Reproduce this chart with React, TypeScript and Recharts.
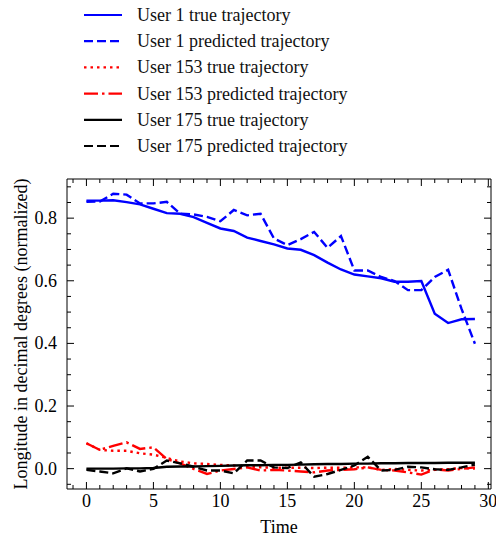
import { LineChart, Line, XAxis, YAxis, Legend } from "recharts";

const time = [0, 1, 2, 3, 4, 5, 6, 7, 8, 9, 10, 11, 12, 13, 14, 15, 16, 17, 18, 19, 20, 21, 22, 23, 24, 25, 26, 27, 28, 29];

const user1True = [0.856, 0.856, 0.857, 0.851, 0.844, 0.83, 0.816, 0.814, 0.803, 0.785, 0.767, 0.759, 0.738, 0.727, 0.716, 0.703, 0.699, 0.682, 0.658, 0.636, 0.62, 0.614, 0.608, 0.597, 0.597, 0.599, 0.495, 0.465, 0.477, 0.478];
const user1Pred = [0.852, 0.853, 0.878, 0.875, 0.847, 0.847, 0.852, 0.814, 0.812, 0.804, 0.79, 0.826, 0.809, 0.814, 0.735, 0.714, 0.733, 0.756, 0.705, 0.743, 0.633, 0.633, 0.612, 0.599, 0.57, 0.57, 0.612, 0.635, 0.51, 0.399];
const user153True = [0.081, 0.06, 0.057, 0.057, 0.049, 0.045, 0.034, 0.023, 0.017, 0.015, 0.012, 0.01, 0.006, 0.004, 0.003, 0.003, 0.003, 0.002, 0.003, 0.003, 0.004, 0.004, -0.004, -0.001, -0.004, -0.006, -0.004, -0.002, 0.002, 0.0];
const user153Pred = [0.081, 0.06, 0.073, 0.084, 0.063, 0.068, 0.031, 0.017, -0.001, -0.017, -0.006, -0.001, 0.004, -0.006, -0.004, -0.006, -0.009, -0.012, -0.006, -0.004, -0.002, 0.004, -0.004, -0.006, -0.012, -0.019, -0.002, -0.006, -0.001, 0.004];
const user175True = [0.0, 0.0, 0.0, 0.001, 0.001, 0.002, 0.006, 0.007, 0.007, 0.008, 0.009, 0.01, 0.011, 0.011, 0.012, 0.012, 0.013, 0.014, 0.015, 0.015, 0.016, 0.016, 0.017, 0.017, 0.018, 0.018, 0.018, 0.019, 0.019, 0.019];
const user175Pred = [-0.004, -0.009, -0.015, 0.001, -0.009, -0.001, 0.026, 0.017, 0.006, -0.006, -0.006, -0.015, 0.026, 0.026, 0.004, 0.002, 0.02, -0.026, -0.017, -0.004, 0.01, 0.038, -0.006, -0.004, 0.006, 0.004, -0.002, -0.004, 0.004, 0.013];

const xTicks = [-1, 0, 1, 2, 3, 4, 5, 6, 7, 8, 9, 10, 11, 12, 13, 14, 15, 16, 17, 18, 19, 20, 21, 22, 23, 24, 25, 26, 27, 28, 29, 30];
const yTicks = [-0.05, 0, 0.05, 0.1, 0.15, 0.2, 0.25, 0.3, 0.35, 0.4, 0.45, 0.5, 0.55, 0.6, 0.65, 0.7, 0.75, 0.8, 0.85, 0.9];

const series = [
  { key: "u1t", name: "User 1 true trajectory", color: "#0000ff", dash: undefined, values: user1True },
  { key: "u1p", name: "User 1 predicted trajectory", color: "#0000ff", dash: "9 4", values: user1Pred },
  { key: "u153t", name: "User 153 true trajectory", color: "#ff0000", dash: "2.5 4", values: user153True },
  { key: "u153p", name: "User 153 predicted trajectory", color: "#ff0000", dash: "14 4 2.5 4", values: user153Pred },
  { key: "u175t", name: "User 175 true trajectory", color: "#000000", dash: undefined, values: user175True },
  { key: "u175p", name: "User 175 predicted trajectory", color: "#000000", dash: "9 4", values: user175Pred },
];

const data = time.map((t, i) => {
  const row: Record<string, number> = { t };
  series.forEach((s) => (row[s.key] = s.values[i]));
  return row;
});

const FONT = "Liberation Serif, Times New Roman, DejaVu Serif, serif";
const txt = { fontFamily: FONT, fontSize: 18 };

const isMajorX = (v: number) => v >= 0 && v % 5 === 0;
const isMajorY = (v: number) => Math.abs(Math.round(v * 5) - v * 5) < 1e-6 && v >= 0 && v < 0.85;

// ticks point inside the frame
const BottomTick = (props: any) => {
  const { x, y, payload } = props;
  const major = isMajorX(payload.value);
  return (
    <g>
      <line x1={x} x2={x} y1={y} y2={y - (major ? 7 : 4)} stroke="#000" strokeWidth={1} />
      {major && (
        <text x={x} y={y + 18} textAnchor="middle" style={txt} fill="#000">
          {payload.value}
        </text>
      )}
    </g>
  );
};

const TopTick = (props: any) => {
  const { x, y, payload } = props;
  const major = isMajorX(payload.value);
  return <line x1={x} x2={x} y1={y} y2={y + (major ? 7 : 4)} stroke="#000" strokeWidth={1} />;
};

const LeftTick = (props: any) => {
  const { x, y, payload } = props;
  const major = isMajorY(payload.value);
  return (
    <g>
      <line x1={x} x2={x + (major ? 7 : 4)} y1={y} y2={y} stroke="#000" strokeWidth={1} />
      {major && (
        <text x={x - 10} y={y + 6} textAnchor="end" style={txt} fill="#000">
          {payload.value.toFixed(1)}
        </text>
      )}
    </g>
  );
};

const RightTick = (props: any) => {
  const { x, y, payload } = props;
  const major = isMajorY(payload.value);
  return <line x1={x} x2={x - (major ? 7 : 4)} y1={y} y2={y} stroke="#000" strokeWidth={1} />;
};

const LegendBox = () => (
  <svg width={420} height={165}>
    {series.map((s, i) => {
      const cy = 15 + i * 26.2;
      return (
        <g key={s.key}>
          <line x1={84} x2={122} y1={cy} y2={cy} stroke={s.color} strokeWidth={2.2} strokeDasharray={s.dash} />
          <text x={137} y={cy + 6} style={txt} fill="#111">
            {s.name}
          </text>
        </g>
      );
    })}
  </svg>
);

export default function App() {
  return (
    <div style={{ position: "absolute", left: 0, top: 0, width: 496, height: 540, background: "#fff", fontFamily: FONT }}>
      <LineChart width={496} height={540} data={data} margin={{ top: 178, right: 4, bottom: 0, left: 0 }}>
        <XAxis
          dataKey="t"
          type="number"
          domain={[-1.45, 30.2]}
          allowDataOverflow
          ticks={xTicks}
          interval={0}
          height={51}
          tickSize={0}
          tickMargin={0}
          tickLine={false}
          tick={<BottomTick />}
          axisLine={{ stroke: "#000" }}
          label={{ value: "Time", position: "insideBottom", offset: 7, style: { ...txt, fill: "#000" } }}
        />
        <XAxis
          xAxisId="top"
          dataKey="t"
          type="number"
          orientation="top"
          domain={[-1.45, 30.2]}
          allowDataOverflow
          ticks={xTicks}
          interval={0}
          height={1}
          tickSize={0}
          tickMargin={0}
          tickLine={false}
          tick={<TopTick />}
          axisLine={{ stroke: "#000" }}
        />
        <YAxis
          type="number"
          domain={[-0.065, 0.925]}
          allowDataOverflow
          ticks={yTicks}
          interval={0}
          width={67}
          tickSize={0}
          tickMargin={0}
          tickLine={false}
          tick={<LeftTick />}
          axisLine={{ stroke: "#000" }}
          label={{
            value: "Longitude in decimal degrees (normalized)",
            angle: -90,
            position: "insideLeft",
            offset: 21,
            style: { ...txt, fill: "#000", textAnchor: "middle" },
          }}
        />
        <YAxis
          yAxisId="right"
          orientation="right"
          type="number"
          domain={[-0.065, 0.925]}
          allowDataOverflow
          ticks={yTicks}
          interval={0}
          width={1}
          tickSize={0}
          tickMargin={0}
          tickLine={false}
          tick={<RightTick />}
          axisLine={{ stroke: "#000" }}
        />
        <Legend
          layout="vertical"
          align="center"
          verticalAlign="middle"
          content={<LegendBox />}
          wrapperStyle={{ position: "absolute", left: 0, top: 0, width: 420, height: 165 }}
        />
        {series.map((s) => (
          <Line
            key={s.key}
            dataKey={s.key}
            name={s.name}
            type="linear"
            stroke={s.color}
            strokeWidth={2.4}
            strokeDasharray={s.dash}
            dot={false}
            activeDot={false}
            isAnimationActive={false}
          />
        ))}
        <Line
          xAxisId="top"
          yAxisId="right"
          dataKey="u1t"
          stroke="none"
          legendType="none"
          dot={false}
          activeDot={false}
          isAnimationActive={false}
        />
      </LineChart>
    </div>
  );
}
